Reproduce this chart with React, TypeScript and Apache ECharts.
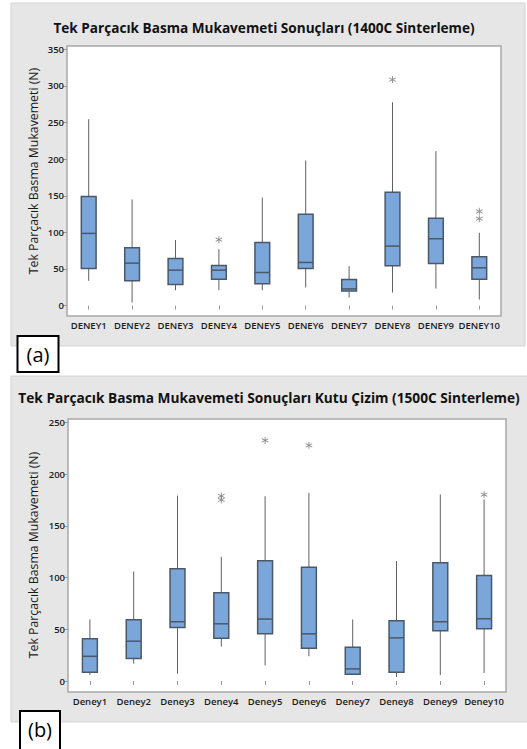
import React, { useEffect, useRef } from "react";
import * as echarts from "echarts";

// ---- Data: chart (a) 1400C ----
const categoriesA = ["DENEY1", "DENEY2", "DENEY3", "DENEY4", "DENEY5", "DENEY6", "DENEY7", "DENEY8", "DENEY9", "DENEY10"];
const minA = [33.8, 4, 21, 21, 21, 24.7, 11, 17.8, 23.3, 8.2];
const q1A = [50.7, 33.8, 28.8, 36, 29.7, 50.7, 20, 54.3, 57.5, 36];
const medA = [98.6, 58, 48.4, 48.4, 45.2, 58.9, 22.8, 81.3, 91.3, 51.6];
const q3A = [149, 79, 64.4, 54.8, 86.3, 124.7, 35.6, 154.8, 119.2, 66.7];
const maxA = [254.5, 145, 89.5, 77, 147.5, 198.2, 53.9, 277.7, 210.9, 99.5];
const outlierCatA = [3, 7, 9, 9];
const outlierValA = [90, 308.6, 128.8, 118.7];
const yTicksA = [0, 50, 100, 150, 200, 250, 300, 350];

// ---- Data: chart (b) 1500C ----
const categoriesB = ["Deney1", "Deney2", "Deney3", "Deney4", "Deney5", "Deney6", "Deney7", "Deney8", "Deney9", "Deney10"];
const minB = [5.8, 16.8, 7.1, 33.3, 15.2, 24, 6.5, 3.9, 5.8, 7.8];
const q1B = [8.4, 21.7, 51.8, 41.4, 45.6, 31.7, 6.5, 8.4, 48.5, 50.5];
const medB = [23.9, 38.5, 57.3, 55.3, 59.9, 45.6, 11.7, 41.7, 57.3, 60.2];
const q3B = [40.8, 59.2, 108.4, 85.4, 116.2, 110, 32.7, 58.3, 114.2, 101.9];
const maxB = [59.5, 105.8, 179.2, 120, 178.6, 181.7, 59.5, 115.9, 180.2, 175.4];
const outlierCatB = [3, 3, 4, 5, 9];
const outlierValB = [178.9, 175, 232.5, 227.8, 180.2];
const yTicksB = [0, 50, 100, 150, 200, 250];

const titleA = "Tek Parçacık Basma Mukavemeti Sonuçları (1400C Sinterleme)";
const titleB = "Tek Parçacık Basma Mukavemeti Sonuçları Kutu Çizim (1500C Sinterleme)";
const yName = "Tek Parçacık Basma Mukavemeti (N)";

const FONT = "'Open Sans', 'Noto Sans', sans-serif";
const BOX_FILL = "#7BA6D9";
const BOX_STROKE = "#4A5869";
const WHISKER = "#606060";

const ASTERISK =
  "path://M4.4 0 L5.6 0 L5.6 10 L4.4 10 Z M0.37 3.02 L0.97 1.98 L9.63 6.98 L9.03 8.02 Z M0.97 8.02 L0.37 6.98 L9.03 1.98 L9.63 3.02 Z";

function boxData(mn: number[], q1: number[], md: number[], q3: number[], mx: number[]) {
  return mn.map((v, i) => [i, v, q1[i], md[i], q3[i], mx[i]]);
}

function renderBox(params: any, api: any) {
  const idx = api.value(0);
  const pMin = api.coord([idx, api.value(1)]);
  const pQ1 = api.coord([idx, api.value(2)]);
  const pMed = api.coord([idx, api.value(3)]);
  const pQ3 = api.coord([idx, api.value(4)]);
  const pMax = api.coord([idx, api.value(5)]);
  const w = api.size([1, 0])[0] * 0.34;
  const x = pMed[0];
  return {
    type: "group",
    children: [
      { type: "line", shape: { x1: x, y1: pMax[1], x2: x, y2: pQ3[1] }, style: { stroke: WHISKER, lineWidth: 1 } },
      { type: "line", shape: { x1: x, y1: pQ1[1], x2: x, y2: pMin[1] }, style: { stroke: WHISKER, lineWidth: 1 } },
      {
        type: "rect",
        shape: { x: x - w / 2, y: pQ3[1], width: w, height: pQ1[1] - pQ3[1] },
        style: { fill: BOX_FILL, stroke: BOX_STROKE, lineWidth: 1.5 },
      },
      {
        type: "line",
        shape: { x1: x - w / 2, y1: pMed[1], x2: x + w / 2, y2: pMed[1] },
        style: { stroke: BOX_STROKE, lineWidth: 1.5 },
      },
    ],
  };
}

function xAxisCfg(cats: string[], gridIndex: number) {
  return {
    type: "category",
    gridIndex,
    data: cats,
    boundaryGap: true,
    axisLine: { show: false },
    axisTick: { show: true, alignWithLabel: true, length: 4, lineStyle: { color: "#999" } },
    axisLabel: { color: "#1a1a1a", fontSize: 9.5, fontWeight: 600, fontFamily: FONT, margin: 4, interval: 0 },
    splitLine: { show: false },
  };
}

function yAxisCfg(min: number, max: number, ticks: number[], gridIndex: number) {
  return {
    type: "value",
    gridIndex,
    min,
    max,
    axisLine: { show: false },
    axisTick: { show: true, length: 4, customValues: ticks, lineStyle: { color: "#999" } },
    axisLabel: { color: "#1a1a1a", fontSize: 9.5, fontWeight: 600, fontFamily: FONT, margin: 3, customValues: ticks },
    splitLine: { show: false },
  };
}

export default function App() {
  const ref = useRef<HTMLDivElement>(null);
  useEffect(() => {
    if (!ref.current) return;
    const chart = echarts.init(ref.current, null, { renderer: "svg" });
    const option: any = {
      animation: false,
      backgroundColor: "#ffffff",
      graphic: [
        {
          type: "rect",
          z: -10,
          shape: { x: 11, y: 3, width: 514, height: 343 },
          style: { fill: "#e6e6e6", stroke: "#d4d4d4", lineWidth: 1 },
        },
        {
          type: "rect",
          z: -10,
          shape: { x: 11, y: 376, width: 520, height: 346 },
          style: { fill: "#e6e6e6", stroke: "#d4d4d4", lineWidth: 1 },
        },
        {
          type: "text",
          x: 264,
          y: 27,
          style: {
            text: titleA,
            font: `bold 13.6px ${FONT}`,
            fill: "#111",
            textAlign: "center",
            textVerticalAlign: "middle",
          },
        },
        {
          type: "text",
          x: 269,
          y: 397,
          style: {
            text: titleB,
            font: `bold 13.7px ${FONT}`,
            fill: "#111",
            textAlign: "center",
            textVerticalAlign: "middle",
          },
        },
        {
          type: "text",
          x: 33,
          y: 171,
          rotation: Math.PI / 2,
          style: {
            text: yName,
            font: `12.3px ${FONT}`,
            fill: "#1a1a1a",
            textAlign: "center",
            textVerticalAlign: "middle",
          },
        },
        {
          type: "text",
          x: 33,
          y: 555,
          rotation: Math.PI / 2,
          style: {
            text: yName,
            font: `12.3px ${FONT}`,
            fill: "#1a1a1a",
            textAlign: "center",
            textVerticalAlign: "middle",
          },
        },
        {
          type: "rect",
          shape: { x: 17.5, y: 336, width: 41, height: 36 },
          style: { fill: "#ffffff", stroke: "#000", lineWidth: 2 },
        },
        {
          type: "text",
          x: 38,
          y: 354,
          style: { text: "(a)", font: `20px ${FONT}`, fill: "#000", textAlign: "center", textVerticalAlign: "middle" },
        },
        {
          type: "rect",
          shape: { x: 20, y: 711, width: 40, height: 42 },
          style: { fill: "#ffffff", stroke: "#000", lineWidth: 2 },
        },
        {
          type: "text",
          x: 40,
          y: 729,
          style: { text: "(b)", font: `20px ${FONT}`, fill: "#000", textAlign: "center", textVerticalAlign: "middle" },
        },
      ],
      grid: [
        {
          left: 67,
          top: 46,
          width: 434,
          height: 270,
          show: true,
          backgroundColor: "#ffffff",
          borderColor: "#a8a8a8",
          borderWidth: 1.5,
        },
        {
          left: 68,
          top: 419,
          width: 438,
          height: 273,
          show: true,
          backgroundColor: "#ffffff",
          borderColor: "#a8a8a8",
          borderWidth: 1.5,
        },
      ],
      xAxis: [xAxisCfg(categoriesA, 0), xAxisCfg(categoriesB, 1)],
      yAxis: [yAxisCfg(-14.2, 354.5, yTicksA, 0), yAxisCfg(-10.6, 253.2, yTicksB, 1)],
      series: [
        {
          type: "custom",
          xAxisIndex: 0,
          yAxisIndex: 0,
          renderItem: renderBox,
          encode: { x: 0, y: [1, 2, 3, 4, 5] },
          data: boxData(minA, q1A, medA, q3A, maxA),
          clip: false,
        },
        {
          type: "scatter",
          xAxisIndex: 0,
          yAxisIndex: 0,
          symbol: ASTERISK,
          symbolSize: 7,
          itemStyle: { color: "#707070" },
          data: outlierCatA.map((c, i) => [c, outlierValA[i]]),
        },
        {
          type: "custom",
          xAxisIndex: 1,
          yAxisIndex: 1,
          renderItem: renderBox,
          encode: { x: 0, y: [1, 2, 3, 4, 5] },
          data: boxData(minB, q1B, medB, q3B, maxB),
          clip: false,
        },
        {
          type: "scatter",
          xAxisIndex: 1,
          yAxisIndex: 1,
          symbol: ASTERISK,
          symbolSize: 7,
          itemStyle: { color: "#707070" },
          data: outlierCatB.map((c, i) => [c, outlierValB[i]]),
        },
      ],
    };
    chart.setOption(option);
    return () => chart.dispose();
  }, []);
  return (
    <div
      ref={ref}
      style={{ position: "absolute", left: 0, top: 0, width: 527, height: 749 }}
    />
  );
}
